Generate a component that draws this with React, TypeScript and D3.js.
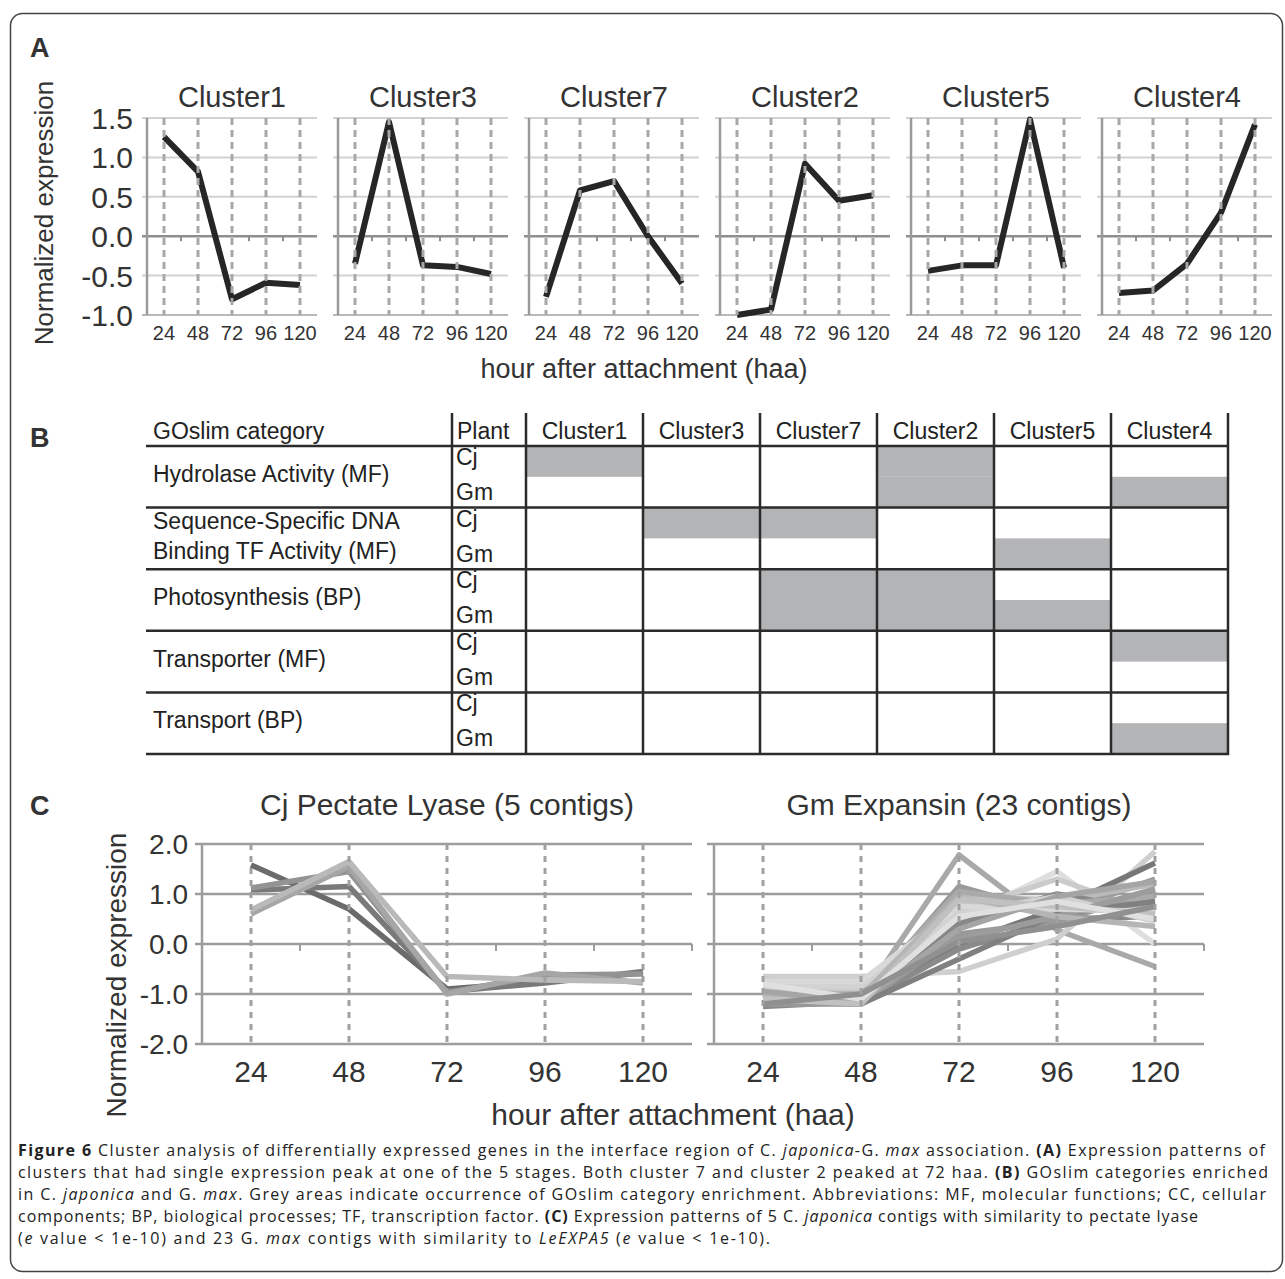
import React, { useEffect, useRef } from 'react';
import * as d3 from 'd3';

// ---- data ----
const hours = ['24', '48', '72', '96', '120'];

const clusterNames = ['Cluster1', 'Cluster3', 'Cluster7', 'Cluster2', 'Cluster5', 'Cluster4'];
const cluster1 = [1.26, 0.82, -0.8, -0.59, -0.62];
const cluster3 = [-0.35, 1.45, -0.37, -0.39, -0.48];
const cluster7 = [-0.77, 0.58, 0.7, 0.0, -0.6];
const cluster2 = [-1.0, -0.93, 0.92, 0.45, 0.52];
const cluster5 = [-0.44, -0.37, -0.37, 1.48, -0.4];
const cluster4 = [-0.72, -0.69, -0.35, 0.3, 1.42];
const clusterSeries = [cluster1, cluster3, cluster7, cluster2, cluster5, cluster4];
const clusterTicks = [-1.0, -0.5, 0.0, 0.5, 1.0, 1.5];

const goCategories = [
  ['Hydrolase Activity (MF)'],
  ['Sequence-Specific DNA', 'Binding TF Activity (MF)'],
  ['Photosynthesis (BP)'],
  ['Transporter (MF)'],
  ['Transport (BP)'],
];
const plants = ['Cj', 'Gm'];
// [category index, plant, cluster] cells that are enriched (grey)
const enriched: [number, string, string][] = [
  [0, 'Cj', 'Cluster1'], [0, 'Cj', 'Cluster2'], [0, 'Gm', 'Cluster2'], [0, 'Gm', 'Cluster4'],
  [1, 'Cj', 'Cluster3'], [1, 'Cj', 'Cluster7'], [1, 'Gm', 'Cluster5'],
  [2, 'Cj', 'Cluster7'], [2, 'Gm', 'Cluster7'], [2, 'Cj', 'Cluster2'], [2, 'Gm', 'Cluster2'], [2, 'Gm', 'Cluster5'],
  [3, 'Cj', 'Cluster4'],
  [4, 'Gm', 'Cluster4'],
];

const cjPectateLyase = [
  [1.58, 0.70, -0.90, -0.75, -0.58],
  [1.08, 1.15, -0.95, -0.78, -0.55],
  [1.12, 1.45, -0.97, -0.62, -0.60],
  [0.60, 1.55, -1.00, -0.58, -0.78],
  [0.68, 1.65, -0.65, -0.72, -0.75],
];
const cjColors = ['#6b6b6b', '#7a7a7a', '#939393', '#a6a6a6', '#b9b9b9'];

const gmExpansin = [
  [-1.0, -1.1, 1.78, 0.28, -0.45],
  [-0.65, -0.65, -0.55, 0.1, 1.85],
  [-0.8, -0.8, 0.5, 1.45, 0.0],
  [-0.9, -0.9, 0.65, 1.3, 0.6],
  [-1.2, -1.15, 0.0, 0.7, 1.62],
  [-1.1, -1.1, 1.15, 0.6, 1.3],
  [-1.05, -1.15, 1.0, 0.85, 1.2],
  [-0.9, -0.95, 0.9, 0.9, 0.8],
  [-1.0, -1.0, 0.8, 0.75, 0.9],
  [-1.15, -1.2, 0.4, 1.0, 0.65],
  [-1.25, -1.15, -0.1, 0.5, 0.55],
  [-1.2, -1.2, 0.2, 0.45, 1.05],
  [-0.95, -1.05, 0.85, 0.65, 0.75],
  [-1.1, -1.0, 1.05, 0.8, 0.95],
  [-0.85, -0.85, 0.6, 0.95, 0.45],
  [-1.0, -1.2, -0.3, 0.6, 0.85],
  [-1.15, -1.1, 0.1, 0.55, 1.1],
  [-0.75, -0.75, 0.75, 0.7, 0.65],
  [-1.05, -1.05, 0.95, 0.55, 0.35],
  [-0.95, -1.15, 0.3, 0.95, 1.25],
  [-1.1, -1.2, 0.9, 0.75, 0.6],
  [-0.8, -1.1, 0.55, 0.85, 0.5],
  [-1.2, -1.0, 0.05, 0.35, 0.75],
];
const gmColors = [
  '#a9a9a9', '#cfcfcf', '#dedede', '#cbcbcb', '#777777', '#9a9a9a', '#bababa', '#c9c9c9',
  '#b0b0b0', '#888888', '#8a8a8a', '#999999', '#c5c5c5', '#aaaaaa', '#d2d2d2', '#808080',
  '#9c9c9c', '#d8d8d8', '#b5b5b5', '#a5a5a5', '#c0c0c0', '#e0e0e0', '#909090',
];
const expressionTicks = [-2, -1, 0, 1, 2];

const captionLines: [string, string][][] = [
  [['Figure 6', 'b'], [' Cluster analysis of differentially expressed genes in the interface region of C. ', ''], ['japonica', 'i'], ['-G. ', ''], ['max', 'i'], [' association. ', ''], ['(A)', 'b'], [' Expression patterns of', '']],
  [['clusters that had single expression peak at one of the 5 stages. Both cluster 7 and cluster 2 peaked at 72 haa. ', ''], ['(B)', 'b'], [' GOslim categories enriched', '']],
  [['in C. ', ''], ['japonica', 'i'], [' and G. ', ''], ['max', 'i'], ['. Grey areas indicate occurrence of GOslim category enrichment. Abbreviations: MF, molecular functions; CC, cellular', '']],
  [['components; BP, biological processes; TF, transcription factor. ', ''], ['(C)', 'b'], [' Expression patterns of 5 C. ', ''], ['japonica', 'i'], [' contigs with similarity to pectate lyase', '']],
  [['(', ''], ['e', 'i'], [' value < 1e-10) and 23 G. ', ''], ['max', 'i'], [' contigs with similarity to ', ''], ['LeEXPA5', 'i'], [' (', ''], ['e', 'i'], [' value < 1e-10).', '']],
];
const captionWidths = [1247, 1250, 1248, 1180, 752];

const W = 1285;
const H = 1279;

const App = () => {
  const ref = useRef<SVGSVGElement | null>(null);

  useEffect(() => {
    if (!ref.current) return;
    const svg = d3.select(ref.current);
    svg.selectAll('*').remove();

    const font = "'Liberation Sans', Arial, Helvetica, sans-serif";
    const ink = '#333333';
    const fmt = (d: number) => d.toFixed(1); // plain hyphen for negatives

    svg.append('rect').attr('width', W).attr('height', H).attr('fill', '#fff');
    svg.append('rect')
      .attr('x', 10.5).attr('y', 13.5)
      .attr('width', 1272).attr('height', 1258)
      .attr('rx', 12)
      .attr('fill', 'none')
      .attr('stroke', '#444')
      .attr('stroke-width', 1.5);

    const label = (t: string, x: number, y: number) => {
      svg.append('text')
        .attr('x', x).attr('y', y)
        .style('font-family', font)
        .style('font-size', '27px')
        .style('font-weight', 'bold')
        .style('fill', ink)
        .text(t);
    };
    label('A', 30, 57);
    label('B', 30, 447);
    label('C', 30, 815);

    // ---------- Panel A: small multiples ----------
    const facet = d3.scaleBand().domain(clusterNames).range([147, 1272]).paddingInner(0.11);
    const yA = d3.scaleLinear().domain([-1, 1.5]).range([315, 118]);
    const bw = facet.bandwidth();

    clusterNames.forEach((name, i) => {
      const g = svg.append('g').attr('transform', `translate(${facet(name)},0)`);
      const x = d3.scalePoint().domain(hours).range([0, bw]).padding(0.5);
      const step = x.step();

      // horizontal gridlines
      g.selectAll('.grid')
        .data(clusterTicks)
        .enter()
        .append('line')
        .attr('x1', -5).attr('x2', bw)
        .attr('y1', d => yA(d)).attr('y2', d => yA(d))
        .attr('stroke', d => (d === 0 ? '#8e8e8e' : d === -1 ? '#b8b8b8' : '#d2d2d2'))
        .attr('stroke-width', d => (d === 0 ? 2.5 : 2));

      // small category ticks on zero line
      g.selectAll('.ztick')
        .data(hours.slice(0, 4))
        .enter()
        .append('line')
        .attr('x1', d => x(d)! + step / 2).attr('x2', d => x(d)! + step / 2)
        .attr('y1', yA(0)).attr('y2', yA(0) + 5)
        .attr('stroke', '#8e8e8e').attr('stroke-width', 2);

      // y axis line
      g.append('line')
        .attr('x1', 0).attr('x2', 0)
        .attr('y1', yA(1.5)).attr('y2', yA(-1))
        .attr('stroke', '#9a9a9a').attr('stroke-width', 2.5);

      // data line
      const line = d3.line<number>()
        .x((d, j) => x(hours[j])!)
        .y(d => yA(d));
      g.append('path')
        .datum(clusterSeries[i])
        .attr('d', line)
        .attr('fill', 'none')
        .attr('stroke', '#262626')
        .attr('stroke-width', 6)
        .attr('stroke-linejoin', 'round');

      // dashed drop lines (drawn on top)
      g.selectAll('.drop')
        .data(hours)
        .enter()
        .append('line')
        .attr('x1', d => x(d)!).attr('x2', d => x(d)!)
        .attr('y1', yA(1.5)).attr('y2', yA(-1))
        .attr('stroke', '#a8a8a8')
        .attr('stroke-width', 3)
        .attr('stroke-dasharray', '7,5');

      // x tick labels
      g.selectAll('.xl')
        .data(hours)
        .enter()
        .append('text')
        .attr('x', d => x(d)!)
        .attr('y', 340)
        .attr('text-anchor', 'middle')
        .style('font-family', font)
        .style('font-size', '20px')
        .style('fill', ink)
        .text(d => d);

      // title
      g.append('text')
        .attr('x', bw / 2)
        .attr('y', 107)
        .attr('text-anchor', 'middle')
        .style('font-family', font)
        .style('font-size', '29px')
        .style('fill', ink)
        .text(name);

      if (i === 0) {
        g.selectAll('.yl')
          .data(clusterTicks)
          .enter()
          .append('text')
          .attr('x', -14)
          .attr('y', d => yA(d) + 11)
          .attr('text-anchor', 'end')
          .style('font-family', font)
          .style('font-size', '30px')
          .style('fill', ink)
          .text(d => fmt(d));
      }
    });

    svg.append('text')
      .attr('transform', 'translate(53,213) rotate(-90)')
      .attr('text-anchor', 'middle')
      .style('font-family', font)
      .style('font-size', '26px')
      .style('fill', ink)
      .text('Normalized expression');

    svg.append('text')
      .attr('x', 644).attr('y', 378)
      .attr('text-anchor', 'middle')
      .style('font-family', font)
      .style('font-size', '27px')
      .style('fill', ink)
      .text('hour after attachment (haa)');

    // ---------- Panel B: GOslim table ----------
    const colX = d3.scaleBand().domain(clusterNames).range([526, 1228]);
    const rowY = d3.scaleBand<number>().domain(goCategories.map((_, i) => i)).range([446, 754]);
    const rh = rowY.bandwidth();
    const tableLeft = 146;
    const plantX = 452;

    svg.selectAll('.cell')
      .data(enriched)
      .enter()
      .append('rect')
      .attr('x', d => colX(d[2])!)
      .attr('y', d => rowY(d[0])! + (d[1] === plants[0] ? 0 : rh / 2))
      .attr('width', colX.bandwidth())
      .attr('height', rh / 2)
      .attr('fill', '#b3b4b6');

    const rowLines = [446, ...goCategories.map((_, i) => rowY(i)! + rh)];
    svg.selectAll('.hline')
      .data(rowLines)
      .enter()
      .append('line')
      .attr('x1', tableLeft).attr('x2', 1229)
      .attr('y1', d => d).attr('y2', d => d)
      .attr('stroke', '#2b2b2b').attr('stroke-width', 2.5);

    const vLines = [plantX, ...clusterNames.map(c => colX(c)!), 1228];
    svg.selectAll('.vline')
      .data(vLines)
      .enter()
      .append('line')
      .attr('x1', d => d).attr('x2', d => d)
      .attr('y1', 413).attr('y2', 755)
      .attr('stroke', '#2b2b2b').attr('stroke-width', 2.5);

    const tText = (t: string, x: number, y: number, anchor = 'start') =>
      svg.append('text')
        .attr('x', x).attr('y', y)
        .attr('text-anchor', anchor)
        .style('font-family', font)
        .style('font-size', '23px')
        .style('fill', '#222')
        .text(t);

    tText('GOslim category', 153, 439);
    tText('Plant', 457, 439);
    clusterNames.forEach(c => tText(c, colX(c)! + colX.bandwidth() / 2, 439, 'middle'));

    goCategories.forEach((lines, i) => {
      const top = rowY(i)!;
      const mid = top + rh / 2;
      if (lines.length === 1) {
        tText(lines[0], 153, mid + 5);
      } else {
        tText(lines[0], 153, mid - 9);
        tText(lines[1], 153, mid + 21);
      }
      tText(plants[0], 456, top + 19);
      tText(plants[1], 456, top + 54);
    });

    // ---------- Panel C: contig expression ----------
    const yC = d3.scaleLinear().domain([-2, 2]).range([1044, 844]);
    const cPanels = [
      { title: 'Cj Pectate Lyase (5 contigs)', x0: 202, x1: 692, data: cjPectateLyase, colors: cjColors, labels: true },
      { title: 'Gm Expansin (23 contigs)', x0: 714, x1: 1204, data: gmExpansin, colors: gmColors, labels: false },
    ];

    cPanels.forEach(p => {
      const g = svg.append('g');
      const x = d3.scalePoint().domain(hours).range([p.x0, p.x1]).padding(0.5);
      const step = x.step();

      g.selectAll('.grid')
        .data(expressionTicks)
        .enter()
        .append('line')
        .attr('x1', p.x0 - 7).attr('x2', p.x1)
        .attr('y1', d => yC(d)).attr('y2', d => yC(d))
        .attr('stroke', '#9d9d9d').attr('stroke-width', 2.5);

      g.selectAll('.ztick')
        .data(hours)
        .enter()
        .append('line')
        .attr('x1', d => x(d)! + step / 2).attr('x2', d => x(d)! + step / 2)
        .attr('y1', yC(0)).attr('y2', yC(0) + 7)
        .attr('stroke', '#9d9d9d').attr('stroke-width', 2);

      g.append('line')
        .attr('x1', p.x0).attr('x2', p.x0)
        .attr('y1', yC(2)).attr('y2', yC(-2))
        .attr('stroke', '#9d9d9d').attr('stroke-width', 2.5);

      const line = d3.line<number>()
        .x((d, j) => x(hours[j])!)
        .y(d => yC(d));
      g.selectAll('.series')
        .data(p.data)
        .enter()
        .append('path')
        .attr('d', d => line(d))
        .attr('fill', 'none')
        .attr('stroke', (d, j) => p.colors[j])
        .attr('stroke-width', 5.5)
        .attr('stroke-linejoin', 'round');

      g.selectAll('.drop')
        .data(hours)
        .enter()
        .append('line')
        .attr('x1', d => x(d)!).attr('x2', d => x(d)!)
        .attr('y1', yC(2)).attr('y2', yC(-2) + 3)
        .attr('stroke', '#a0a0a0')
        .attr('stroke-width', 3)
        .attr('stroke-dasharray', '6,6');

      g.selectAll('.xl')
        .data(hours)
        .enter()
        .append('text')
        .attr('x', d => x(d)!)
        .attr('y', 1082)
        .attr('text-anchor', 'middle')
        .style('font-family', font)
        .style('font-size', '30px')
        .style('fill', ink)
        .text(d => d);

      g.append('text')
        .attr('x', (p.x0 + p.x1) / 2)
        .attr('y', 815)
        .attr('text-anchor', 'middle')
        .style('font-family', font)
        .style('font-size', '30px')
        .style('fill', ink)
        .text(p.title);

      if (p.labels) {
        g.selectAll('.yl')
          .data(expressionTicks)
          .enter()
          .append('text')
          .attr('x', p.x0 - 14)
          .attr('y', d => yC(d) + 10)
          .attr('text-anchor', 'end')
          .style('font-family', font)
          .style('font-size', '28px')
          .style('fill', ink)
          .text(d => fmt(d));
      }
    });

    svg.append('text')
      .attr('transform', 'translate(126,975) rotate(-90)')
      .attr('text-anchor', 'middle')
      .style('font-family', font)
      .style('font-size', '28px')
      .style('fill', ink)
      .text('Normalized expression');

    svg.append('text')
      .attr('x', 673).attr('y', 1125)
      .attr('text-anchor', 'middle')
      .style('font-family', font)
      .style('font-size', '30px')
      .style('fill', ink)
      .text('hour after attachment (haa)');

    // ---------- caption ----------
    captionLines.forEach((segs, i) => {
      const t = svg.append('text')
        .attr('x', 18)
        .attr('y', 1156 + i * 22)
        .attr('textLength', captionWidths[i])
        .attr('lengthAdjust', 'spacing')
        .style('font-family', "'Open Sans', 'Noto Sans', sans-serif")
        .style('font-size', '16px')
        .style('fill', '#222')
        .style('white-space', 'pre');
      segs.forEach(([s, k]) => {
        t.append('tspan')
          .style('font-weight', k === 'b' ? 'bold' : 'normal')
          .style('font-style', k === 'i' ? 'italic' : 'normal')
          .text(s);
      });
    });
  }, []);

  return (
    <div style={{ width: W, height: H }}>
      <style>{'body{margin:0}'}</style>
      <svg ref={ref} width={W} height={H} style={{ display: 'block' }} />
    </div>
  );
};

export default App;
